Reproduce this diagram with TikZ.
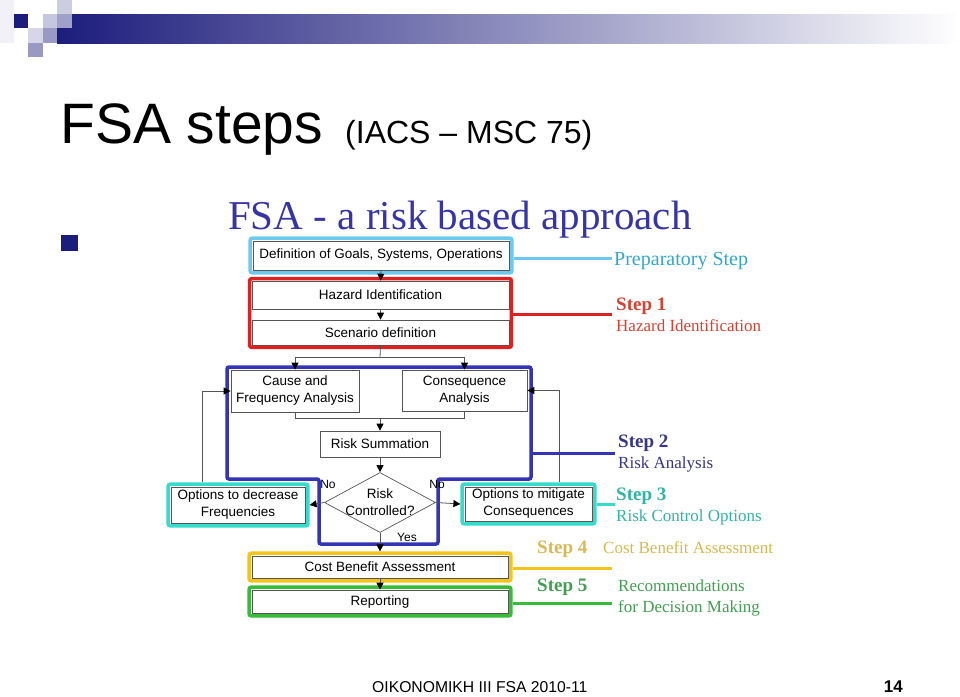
\documentclass[tikz,border=0pt]{standalone}
\usepackage{fontspec}
\setmainfont{Liberation Sans}
\newfontfamily\serifface{Liberation Serif}
\usepackage{tikz}
\usetikzlibrary{shapes.geometric, arrows.meta, positioning, calc, fit}
\definecolor{slidenavy}{HTML}{1C1C7C}
\definecolor{headblue}{HTML}{3535A8}
\definecolor{prepblue}{HTML}{6CC8EE}
\definecolor{preptext}{HTML}{33A6CC}
\definecolor{hazred}{HTML}{DD2020}
\definecolor{hazredtext}{HTML}{D84030}
\definecolor{riskblue}{HTML}{3434B4}
\definecolor{risktext}{HTML}{35358A}
\definecolor{rcoturq}{HTML}{36DCCB}
\definecolor{rcotext}{HTML}{30B4A4}
\definecolor{cbayellow}{HTML}{F4C41C}
\definecolor{cbatext}{HTML}{D8B850}
\definecolor{repgreen}{HTML}{36BC36}
\definecolor{reptext}{HTML}{40A050}
\definecolor{linegray}{HTML}{555555}

\begin{document}
\begin{tikzpicture}[
  x=1pt, y=-1pt,
  box/.style={draw=linegray, line width=0.7pt, fill=white, inner sep=0pt, align=center,
    font=\fontsize{13.5}{17}\selectfont},
  stepframe/.style={draw=#1, line width=3.5pt, rounded corners=2pt, inner sep=2.5pt},
  flow/.style={draw=linegray, line width=0.8pt, -{Triangle[length=7pt, width=7pt, black]}},
  link/.style={draw=linegray, line width=0.8pt},
  steplink/.style={line width=3pt, draw=#1},
  stephead/.style={anchor=base west, text=#1, font=\serifface\bfseries\fontsize{19}{21}\selectfont, inner sep=0pt},
  steptext/.style={anchor=base west, text=#1, font=\serifface\fontsize{17}{21}\selectfont, inner sep=0pt},
  answer/.style={font=\fontsize{12}{14}\selectfont, inner sep=0pt}
]
\useasboundingbox (0,0) rectangle (960,696);

% slide header
\fill[slidenavy!6] (0,0) rectangle (14,43);
\shade[left color=slidenavy, right color=white] (57,14) rectangle (960,43);
\fill[slidenavy] (14,14) rectangle (28,28);
\fill[slidenavy!22] (57,0) rectangle (72,14);
\fill[slidenavy!25] (43,14) rectangle (57,28);
\fill[slidenavy!42] (57,14) rectangle (72,28);
\fill[slidenavy!18] (28,28) rectangle (43,43);
\fill[slidenavy!45] (43,28) rectangle (57,43);
\fill[slidenavy!45] (28,43) rectangle (43,57);
\node[anchor=base west, inner sep=0pt, font=\fontsize{57}{60}\selectfont] (title) at (60,143) {FSA steps};
\node[anchor=base west, inner sep=0pt, font=\fontsize{32}{36}\selectfont] (subtitle) at (345,143) {(IACS -- MSC 75)};
\fill[slidenavy] (61,235) rectangle (78,251);
\node[anchor=base west, inner sep=0pt, text=headblue, font=\serifface\fontsize{41}{44}\selectfont] (headline) at (228,229) {FSA - a risk based approach};

% boxes
\node[box, minimum width=256pt, minimum height=29pt] (def) at (381,255.5) {Definition of Goals, Systems, Operations};
\node[box, minimum width=257pt, minimum height=28pt] (haz) at (380.5,295) {Hazard Identification};
\node[box, minimum width=257pt, minimum height=25pt] (scen) at (380.5,332.5) {Scenario definition};
\node[box, minimum width=128pt, minimum height=42pt] (cause) at (295,391) {Cause and\\Frequency Analysis};
\node[box, minimum width=125pt, minimum height=41pt] (cons) at (464.5,390.5) {Consequence\\Analysis};
\node[box, minimum width=120pt, minimum height=26pt] (rsum) at (380,444) {Risk Summation};
\node[draw=linegray, line width=0.7pt, diamond, minimum width=111pt, minimum height=60pt, inner sep=0pt] (risk) at (380,502.5) {};
\node[align=center, inner sep=0pt, font=\fontsize{13.5}{17}\selectfont] (risktext) at (risk.center) {Risk\\Controlled?};
\node[box, minimum width=134pt, minimum height=36pt] (optdec) at (238,505) {Options to decrease\\Frequencies};
\node[box, minimum width=127pt, minimum height=34pt] (optmit) at (528.5,504) {Options to mitigate\\Consequences};
\node[box, minimum width=256pt, minimum height=22pt] (cba) at (380,567) {Cost Benefit Assessment};
\node[box, minimum width=256pt, minimum height=23pt] (rep) at (380,601.5) {Reporting};

% coloured step frames
\node[stepframe=prepblue, fit=(def)] (prepframe) {};
\node[stepframe=hazred, fit=(haz) (scen), inner sep=2pt] (hazframe) {};
\node[stepframe=rcoturq, fit=(optdec)] (decframe) {};
\node[stepframe=rcoturq, fit=(optmit)] (mitframe) {};
\node[stepframe=cbayellow, fit=(cba)] (cbaframe) {};
\node[stepframe=repgreen, fit=(rep)] (repframe) {};
\draw[riskblue, line width=3.5pt, rounded corners=2pt]
  (227,367) -- (531,367) -- (531,479) -- (438,479) -- (438,544)
  -- (319,544) -- (319,479) -- (227,479) -- cycle;

% flow
\coordinate (split) at (380,357);
\coordinate (merge) at (380,418);
\draw[flow] (def.south) -- (haz.north);
\draw[flow] (haz.south) -- (scen.north);
\draw[link] (scen.south) -- (split);
\draw[flow] (split) -| (cause.north);
\draw[flow] (split) -| (cons.north);
\draw[link] (cause.south) |- (merge);
\draw[link] (cons.south) |- (merge);
\draw[flow] (merge) -- (rsum.north);
\draw[flow] (rsum.south) -- (risk.north);
\draw[flow] (risk.west) -- (decframe.east);
\draw[flow] (risk.east) -- (mitframe.west);
\draw[flow] (risk.south) -- (cbaframe.north);
\draw[flow] (cba.south) -- (rep.north);
\draw[flow] ($(decframe.north west)!0.25!(decframe.north east)$) |- (cause.west);
\draw[flow] ($(mitframe.north west)!0.73!(mitframe.north east)$) |- (cons.east);
\node[answer] (nodec) at (328,484) {No};
\node[answer] (nomit) at (437,484) {No};
\node[answer] (yes) at (407,537) {Yes};

% step labels
\node[steptext=preptext, font=\serifface\fontsize{20}{22}\selectfont] (preplabel) at (614,265) {Preparatory Step};
\node[stephead=hazredtext] (step1) at (616,310) {Step 1};
\node[steptext=hazredtext] (step1txt) at (616,331) {Hazard Identification};
\node[stephead=risktext] (step2) at (618,447) {Step 2};
\node[steptext=risktext] (step2txt) at (618,468) {Risk Analysis};
\node[stephead=rcotext] (step3) at (616,500) {Step 3};
\node[steptext=rcotext] (step3txt) at (616,521) {Risk Control Options};
\node[stephead=cbatext] (step4) at (537,553) {Step 4};
\node[steptext=cbatext] (step4txt) at (603,553) {Cost Benefit Assessment};
\node[stephead=reptext] (step5) at (537,591) {Step 5};
\node[steptext=reptext] (step5txt) at (618,591) {Recommendations};
\node[steptext=reptext] (step5txtb) at (618,612) {for Decision Making};

% leader lines
\coordinate (prepend) at (612,258);
\coordinate (hazend) at (612,314);
\coordinate (riskjoin) at (531,453);
\coordinate (riskend) at (615,453);
\coordinate (rcoend) at (615,504);
\coordinate (cbaend) at (612,568);
\coordinate (repend) at (612,603);
\draw[steplink=prepblue] (prepframe.east |- prepend) -- (prepend);
\draw[steplink=hazred] (hazframe.east |- hazend) -- (hazend);
\draw[steplink=riskblue] (riskjoin) -- (riskend);
\draw[steplink=rcoturq] (mitframe.east |- rcoend) -- (rcoend);
\draw[steplink=cbayellow] (cbaframe.east |- cbaend) -- (cbaend);
\draw[steplink=repgreen] (repframe.east |- repend) -- (repend);

% footer
\node[anchor=base west, inner sep=0pt, font=\fontsize{15.7}{18}\selectfont] (footer) at (372,692) {OIKONOMIKH III FSA 2010-11};
\node[anchor=base east, inner sep=0pt, font=\bfseries\fontsize{17}{18}\selectfont] (pagenum) at (903,692) {14};
\end{tikzpicture}
\end{document}
